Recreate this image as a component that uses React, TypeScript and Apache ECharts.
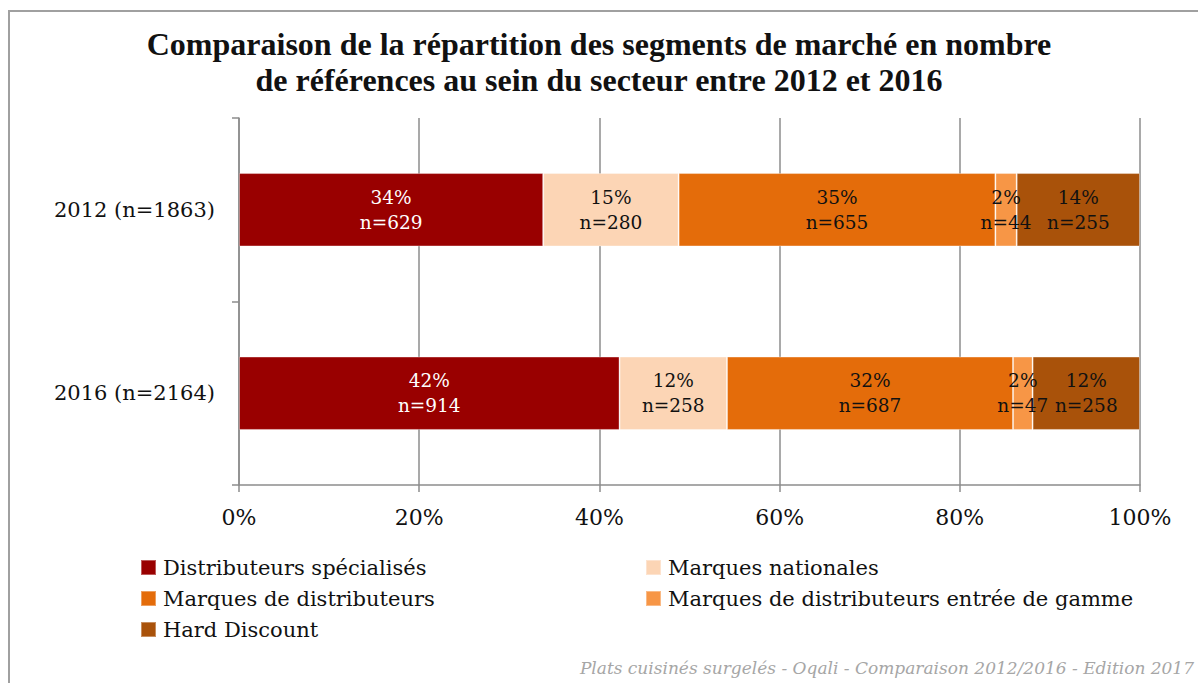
import React, { useEffect, useRef } from "react";
import * as echarts from "echarts";

const categories = ["2012 (n=1863)", "2016 (n=2164)"];
const totals = [1863, 2164];
const seriesNames = [
  "Distributeurs spécialisés",
  "Marques nationales",
  "Marques de distributeurs",
  "Marques de distributeurs entrée de gamme",
  "Hard Discount",
];
const distributeursSpecialises = [629, 914];
const marquesNationales = [280, 258];
const marquesDistributeurs = [655, 687];
const mddEntreeGamme = [44, 47];
const hardDiscount = [255, 258];
const xTicks = [0, 20, 40, 60, 80, 100];

const colors = ["#990000", "#FCD5B5", "#E46C0A", "#F79646", "#A9520A"];
const labelColors = ["#ffffff", "#111111", "#111111", "#111111", "#111111"];
const FONT = "'DejaVu Serif', 'Liberation Serif', serif";

export default function App() {
  const ref = useRef<HTMLDivElement>(null);
  useEffect(() => {
    if (!ref.current) return;
    const chart = echarts.init(ref.current, undefined, { renderer: "svg" });
    const counts = [distributeursSpecialises, marquesNationales, marquesDistributeurs, mddEntreeGamme, hardDiscount];
    const series = counts.map((arr, i) => ({
      name: seriesNames[i],
      type: "bar",
      stack: "total",
      barWidth: "40%",
      itemStyle: { color: colors[i], borderColor: "rgba(255,255,255,0.35)", borderWidth: 1 },
      label: {
        show: true,
        position: "inside",
        color: labelColors[i],
        fontFamily: FONT,
        fontSize: 18.5,
        lineHeight: 25,
        formatter: (p: any) => {
          const n = arr[p.dataIndex];
          return Math.round((n / totals[p.dataIndex]) * 100) + "%\nn=" + n;
        },
      },
      data: arr.map((n, j) => (n / totals[j]) * 100),
    }));
    const legendPos = [
      { left: 135, top: 552 },
      { left: 640, top: 552 },
      { left: 135, top: 583 },
      { left: 640, top: 583 },
      { left: 135, top: 614 },
    ];
    chart.setOption({
      animation: false,
      backgroundColor: "#ffffff",
      title: {
        text: "Comparaison de la répartition des segments de marché en nombre\nde références au sein du secteur entre 2012 et 2016",
        left: "center",
        top: 21,
        textStyle: {
          fontFamily: "'Liberation Serif', serif",
          fontWeight: "bold",
          fontSize: 32,
          lineHeight: 36,
          color: "#111111",
        },
      },
      legend: seriesNames.map((name, i) => ({
        data: [name],
        left: legendPos[i].left,
        top: legendPos[i].top,
        icon: "rect",
        itemWidth: 15,
        itemHeight: 15,
        itemGap: 0,
        selectedMode: false,
        textStyle: { fontFamily: FONT, fontSize: 21, color: "#111111", padding: [0, 0, 0, 2] },
      })),
      grid: { left: 239, right: 58, top: 118, bottom: 198, containLabel: false },
      xAxis: {
        type: "value",
        min: 0,
        max: 100,
        interval: 20,
        axisLine: { show: true, lineStyle: { color: "#8c8c8c", width: 1.5 } },
        axisTick: { show: true, length: 7, lineStyle: { color: "#8c8c8c", width: 1.5 } },
        splitLine: { show: true, lineStyle: { color: "#8c8c8c", width: 1.5 } },
        axisLabel: {
          fontFamily: FONT,
          fontSize: 22,
          color: "#111111",
          margin: 21,
          formatter: (v: number) => (xTicks.includes(v) ? v + "%" : ""),
        },
      },
      yAxis: {
        type: "category",
        inverse: true,
        data: categories,
        axisLine: { show: true, lineStyle: { color: "#8c8c8c", width: 1.5 } },
        axisTick: { show: true, length: 7, lineStyle: { color: "#8c8c8c", width: 1.5 } },
        axisLabel: { fontFamily: FONT, fontSize: 21, color: "#111111", margin: 24 },
      },
      graphic: [
        {
          type: "rect",
          shape: { x: 9, y: 11, width: 1400, height: 900 },
          style: { fill: "none", stroke: "#a0a0a0", lineWidth: 2 },
          silent: true,
        },
        {
          type: "text",
          right: 4,
          top: 659,
          style: {
            text: "Plats cuisinés surgelés - Oqali - Comparaison 2012/2016 - Edition 2017",
            fontFamily: FONT,
            fontStyle: "italic",
            fontSize: 17,
            fill: "#a6a6a6",
          },
        },
      ],
      series,
    });
    return () => chart.dispose();
  }, []);
  return (
    <div
      ref={ref}
      style={{ position: "fixed", left: 0, top: 0, width: 1198, height: 683, background: "#fff" }}
    />
  );
}
